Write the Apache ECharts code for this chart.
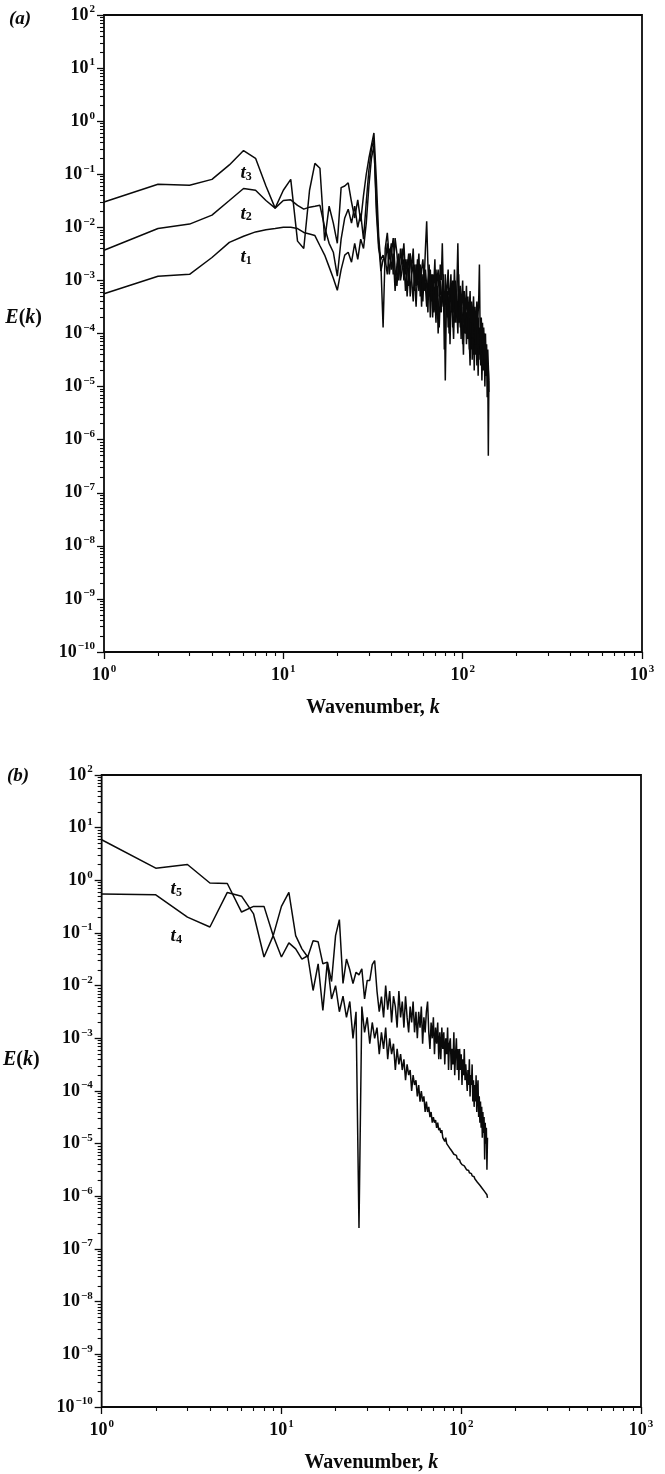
<!DOCTYPE html>
<html>
<head>
<meta charset="utf-8">
<script src="https://cdn.jsdelivr.net/npm/echarts@6/dist/echarts.min.js"></script>
<style>
  html, body { margin: 0; padding: 0; background: #fff; }
  #chart { width: 665px; height: 1474px; }
</style>
</head>
<body>
<div id="chart"></div>
<script>
// Shell wavenumbers k = 1 … 140
const wavenumbers = [
  1,2,3,4,5,6,7,8,9,10,11,12,13,14,15,16,17,18,19,20,
  21,22,23,24,25,26,27,28,29,30,31,32,33,34,35,36,37,38,39,40,
  41,42,43,44,45,46,47,48,49,50,51,52,53,54,55,56,57,58,59,60,
  61,62,63,64,65,66,67,68,69,70,71,72,73,74,75,76,77,78,79,80,
  81,82,83,84,85,86,87,88,89,90,91,92,93,94,95,96,97,98,99,100,
  101,102,103,104,105,106,107,108,109,110,111,112,113,114,115,116,117,118,119,120,
  121,122,123,124,125,126,127,128,129,130,131,132,133,134,135,136,137,138,139,140
];

// Panel (a): energy spectra E(k) at times t1, t2, t3
const spectrumT1 = [
  5.6e-4,1.2e-3,1.3e-3,2.7e-3,5.2e-3,6.8e-3,8.2e-3,9.0e-3,9.5e-3,1.0e-2,
  1.0e-2,9.5e-3,8.0e-3,7.5e-3,7.0e-3,4.5e-3,3.0e-3,1.8e-3,1.1e-3,6.5e-4,
  1.6e-3,3.0e-3,3.4e-3,2.2e-3,5.0e-3,2.5e-3,6.0e-3,4.0e-3,1.2e-2,6.0e-2,
  2.0e-1,3.5e-1,3.0e-2,5.0e-3,1.5e-3,2.5e-3,2.5e-3,1.3e-3,4.0e-3,1.6e-3,
  3.2e-3,6.3e-4,2.0e-3,3.2e-3,1.0e-3,1.6e-3,2.5e-3,6.3e-4,1.6e-3,3.2e-3,
  5.0e-4,1.3e-3,2.0e-3,1.0e-3,3.2e-4,1.6e-3,6.3e-4,1.3e-3,1.0e-3,4.0e-4,
  1.6e-3,7.9e-4,3.2e-4,1.0e-3,1.6e-3,2.0e-4,6.3e-4,1.0e-3,2.5e-4,5.0e-4,
  1.6e-4,7.9e-4,4.0e-4,1.3e-4,5.0e-4,2.5e-4,1.0e-3,3.2e-4,5.0e-4,1.3e-5,
  2.5e-4,6.3e-4,1.3e-4,4.0e-4,6.3e-5,3.2e-4,5.0e-4,2.0e-4,7.9e-5,3.2e-4,
  1.6e-4,6.3e-4,2.5e-4,1.0e-4,4.0e-4,1.6e-4,3.2e-4,7.9e-5,2.5e-4,1.3e-4,
  4.0e-5,2.0e-4,1.0e-4,2.5e-4,6.3e-5,1.6e-4,7.9e-5,2.0e-4,6.3e-5,2.5e-5,
  1.3e-4,5.0e-5,1.6e-4,4.0e-5,1.0e-4,2.0e-5,7.9e-5,5.0e-5,1.3e-4,3.2e-5,
  6.3e-5,1.6e-5,1.0e-4,4.0e-5,7.9e-5,2.5e-5,6.3e-5,1.3e-5,4.0e-5,7.9e-5,
  2.0e-5,5.0e-5,1.0e-5,3.2e-5,1.6e-5,4.0e-5,6.3e-6,2.5e-5,5.0e-7,1.3e-5
];
const spectrumT2 = [
  3.7e-3,9.5e-3,1.15e-2,1.7e-2,3.2e-2,5.4e-2,5.0e-2,3.2e-2,2.3e-2,3.2e-2,
  3.3e-2,2.6e-2,2.2e-2,2.4e-2,2.5e-2,2.6e-2,1.0e-2,5.0e-3,3.4e-3,1.2e-3,
  6.0e-3,1.5e-2,2.2e-2,1.2e-2,2.5e-2,1.0e-2,1.8e-2,6.0e-3,3.0e-2,1.2e-1,
  3.0e-1,4.5e-1,2.0e-2,4.0e-3,2.5e-3,3.0e-3,2.0e-3,5.0e-3,1.3e-3,3.2e-3,
  6.3e-3,1.6e-3,7.9e-4,2.5e-3,1.3e-3,4.0e-3,1.0e-3,2.5e-3,5.0e-4,1.6e-3,
  3.2e-3,1.0e-3,4.0e-4,2.0e-3,7.9e-4,2.5e-3,1.0e-3,2.0e-3,3.2e-4,1.3e-3,
  6.3e-4,1.6e-3,7.9e-4,2.5e-4,2.0e-3,5.0e-4,1.3e-3,2.0e-4,7.9e-4,4.0e-4,
  1.6e-3,6.3e-4,1.0e-4,5.0e-4,1.0e-3,3.2e-4,6.3e-4,1.3e-3,5.0e-5,4.0e-4,
  7.9e-4,2.0e-4,5.0e-4,1.0e-4,3.2e-4,7.9e-4,4.0e-4,1.3e-4,6.3e-4,2.5e-4,
  1.0e-3,5.0e-4,1.6e-4,4.0e-4,1.3e-3,2.5e-4,1.3e-4,5.0e-4,2.0e-4,6.3e-5,
  3.2e-4,1.6e-4,4.0e-4,1.0e-4,2.5e-4,1.3e-4,3.2e-4,1.6e-4,5.0e-5,2.5e-4,
  1.0e-4,2.0e-4,3.2e-5,1.3e-4,2.5e-4,7.9e-5,1.6e-4,4.0e-5,1.3e-4,2.5e-5,
  1.0e-4,2.0e-4,6.3e-5,1.3e-4,3.2e-5,7.9e-5,5.0e-5,1.3e-4,2.0e-5,6.3e-5,
  3.2e-5,1.0e-4,4.0e-5,1.6e-5,5.0e-5,2.5e-5,4.0e-5,1.0e-5,2.0e-5,7.9e-6
];
const spectrumT3 = [
  3.0e-2,6.5e-2,6.2e-2,8.0e-2,1.5e-1,2.8e-1,2.0e-1,6.0e-2,2.3e-2,5.0e-2,
  8.0e-2,5.5e-3,4.0e-3,5.0e-2,1.6e-1,1.3e-1,5.6e-3,2.5e-2,1.2e-2,5.0e-3,
  5.6e-2,6.0e-2,6.9e-2,3.0e-2,1.5e-2,3.3e-2,1.3e-2,4.0e-2,1.0e-1,2.0e-1,
  3.5e-1,6.0e-1,8.0e-2,7.0e-3,2.0e-3,1.3e-4,4.0e-3,7.9e-3,2.5e-3,5.0e-3,
  1.3e-3,6.3e-3,3.2e-3,1.0e-3,4.0e-3,2.0e-3,5.0e-3,1.3e-3,2.5e-3,7.9e-4,
  3.2e-3,1.6e-3,4.0e-3,6.3e-4,2.0e-3,1.3e-3,3.2e-3,5.0e-4,1.6e-3,2.5e-3,
  1.0e-3,4.0e-3,1.3e-2,2.0e-3,6.3e-4,1.6e-3,4.0e-4,1.3e-3,7.9e-4,2.5e-3,
  3.2e-4,1.0e-3,1.6e-3,5.0e-4,2.0e-3,1.0e-3,5.0e-3,6.3e-4,2.5e-4,1.3e-3,
  4.0e-4,7.9e-4,1.6e-3,3.2e-4,6.3e-4,1.3e-3,2.5e-4,1.0e-3,5.0e-4,1.6e-3,
  4.0e-4,2.0e-4,1.0e-3,5.0e-3,6.3e-4,3.2e-4,7.9e-4,1.6e-4,5.0e-4,1.0e-3,
  2.5e-4,6.3e-4,1.3e-4,4.0e-4,7.9e-4,2.0e-4,5.0e-4,1.0e-4,3.2e-4,6.3e-4,
  1.6e-4,4.0e-4,7.9e-5,2.5e-4,5.0e-4,1.3e-4,3.2e-4,6.3e-5,2.0e-4,4.0e-4,
  1.0e-4,2.5e-4,5.0e-4,2.0e-3,1.3e-4,5.0e-5,2.0e-4,7.9e-5,1.6e-4,4.0e-5,
  1.3e-4,6.3e-5,2.5e-5,1.0e-4,3.2e-5,6.3e-5,1.6e-5,5.0e-5,2.5e-5,1.3e-5
];

// Panel (b): energy spectra E(k) at times t4, t5
const spectrumT4 = [
  5.5e-1,5.3e-1,2.0e-1,1.3e-1,5.9e-1,5.0e-1,2.3e-1,3.5e-2,8.9e-2,3.5e-2,
  6.5e-2,5.0e-2,3.2e-2,3.7e-2,8.1e-3,2.6e-2,3.4e-3,2.8e-2,5.6e-3,1.0e-2,
  3.2e-3,6.3e-3,2.5e-3,5.0e-3,1.0e-3,3.2e-3,2.5e-7,4.0e-3,1.3e-3,2.5e-3,
  7.9e-4,2.0e-3,1.0e-3,1.6e-3,5.0e-4,1.3e-3,6.3e-4,1.6e-3,4.0e-4,1.0e-3,
  5.0e-4,7.9e-4,2.5e-4,6.3e-4,3.2e-4,5.0e-4,2.5e-4,4.0e-4,1.6e-4,3.2e-4,
  2.0e-4,2.5e-4,1.0e-4,2.0e-4,1.3e-4,1.6e-4,7.9e-5,1.3e-4,6.3e-5,1.0e-4,
  6.3e-5,7.9e-5,4.0e-5,6.3e-5,4.0e-5,5.0e-5,3.2e-5,4.0e-5,2.5e-5,3.2e-5,
  2.5e-5,2.8e-5,2.0e-5,2.5e-5,1.8e-5,2.0e-5,1.6e-5,1.8e-5,1.3e-5,1.4e-5,
  1.1e-5,1.3e-5,1.0e-5,1.07e-5,8.9e-6,9.5e-6,7.9e-6,8.3e-6,7.1e-6,7.4e-6,
  6.3e-6,6.6e-6,5.8e-6,6.0e-6,5.2e-6,5.4e-6,4.8e-6,4.9e-6,4.4e-6,4.5e-6,
  4.0e-6,4.1e-6,3.7e-6,3.8e-6,3.5e-6,3.55e-6,3.2e-6,3.3e-6,3.0e-6,3.1e-6,
  2.8e-6,2.9e-6,2.6e-6,2.7e-6,2.45e-6,2.5e-6,2.3e-6,2.35e-6,2.15e-6,2.2e-6,
  2.0e-6,2.05e-6,1.85e-6,1.9e-6,1.74e-6,1.78e-6,1.62e-6,1.66e-6,1.51e-6,1.55e-6,
  1.41e-6,1.45e-6,1.32e-6,1.35e-6,1.23e-6,1.26e-6,1.15e-6,1.17e-6,1.07e-6,9.3e-7
];
const spectrumT5 = [
  5.9,1.7,2.0,8.9e-1,8.7e-1,2.5e-1,3.2e-1,3.2e-1,8.9e-2,3.2e-1,
  5.9e-1,8.9e-2,5.0e-2,3.5e-2,7.1e-2,6.8e-2,2.6e-2,2.8e-2,1.2e-2,8.9e-2,
  1.8e-1,1.1e-2,3.2e-2,2.0e-2,1.1e-2,1.8e-2,1.6e-2,2.1e-2,5.6e-3,1.26e-2,
  1.26e-2,2.5e-2,3.0e-2,7.9e-3,3.2e-3,6.2e-3,2.5e-3,1.0e-2,3.5e-3,7.9e-3,
  2.0e-3,6.3e-3,4.0e-3,1.6e-3,7.9e-3,2.5e-3,5.0e-3,1.6e-3,6.3e-3,2.5e-3,
  1.3e-3,4.0e-3,2.0e-3,5.0e-3,1.3e-3,3.2e-3,1.0e-3,3.2e-3,1.6e-3,4.0e-3,
  7.9e-4,2.5e-3,1.3e-3,3.2e-3,5.0e-3,1.3e-3,6.3e-4,2.0e-3,1.0e-3,2.5e-3,
  5.0e-4,1.6e-3,7.9e-4,2.0e-3,4.0e-4,1.3e-3,4.0e-4,1.6e-3,6.3e-4,1.3e-3,
  3.2e-4,1.0e-3,5.0e-4,1.6e-3,2.5e-4,7.9e-4,1.0e-3,2.5e-4,6.3e-4,3.2e-4,
  1.3e-3,2.0e-4,5.0e-4,1.0e-3,2.5e-4,6.3e-4,1.6e-4,6.3e-4,2.5e-4,5.0e-4,
  1.3e-4,4.0e-4,2.0e-4,6.3e-4,1.6e-4,3.2e-4,3.2e-4,1.0e-4,2.5e-4,1.3e-4,
  4.0e-4,7.9e-5,2.0e-4,1.3e-4,3.2e-4,6.3e-5,1.6e-4,5.0e-5,1.3e-4,6.3e-5,
  2.0e-4,4.0e-5,1.0e-4,1.6e-4,3.2e-5,7.9e-5,2.5e-5,6.3e-5,2.0e-5,5.0e-5,
  1.3e-5,4.0e-5,1.6e-5,3.2e-5,5.0e-6,2.5e-5,1.0e-5,2.0e-5,3.2e-6,1.3e-5
];

// Axis ranges and decade tick values
const kRange = [1, 1000];
const energyRange = [1e-10, 1e2];
const decadeTicksK = [1, 10, 100, 1000];
const decadeTicksE = [1e-10, 1e-9, 1e-8, 1e-7, 1e-6, 1e-5, 1e-4, 1e-3, 1e-2, 1e-1, 1, 10, 100];

// Intermediate log ticks 2·10^n … 9·10^n inside each decade
function logMinorTicks(decades) {
  const out = [];
  for (let i = 0; i < decades.length - 1; i++) {
    for (let m = 2; m <= 9; m++) out.push(decades[i] * m);
  }
  return out;
}
const minorTicksK = logMinorTicks(decadeTicksK);
const minorTicksE = logMinorTicks(decadeTicksE);

const INK = '#0a0a0a';
const SERIF = 'Liberation Serif';

function powerOfTen(v) {
  const e = Math.round(Math.log10(v));
  return '{b|10}{s|' + String(e).replace('-', '\u2212') + '}';
}
const powerRich = {
  b: { fontFamily: SERIF, fontSize: 18, fontWeight: 'bold', color: INK, lineHeight: 22 },
  s: { fontFamily: SERIF, fontSize: 11, fontWeight: 'bold', color: INK, verticalAlign: 'top', padding: [0, 0, 4, 1] }
};
const nameRich = {
  n: { fontFamily: SERIF, fontSize: 20, fontWeight: 'bold', color: INK },
  i: { fontFamily: SERIF, fontSize: 20, fontWeight: 'bold', color: INK, fontStyle: 'italic' }
};

// plot boxes; eLift raises the E(k) caption above the axis middle
const panels = [
  { left: 104, top: 15, width: 538, height: 637, eLift: 32 },
  { left: 99, top: 775, width: 542, height: 636, eLift: 62 }
];

const grid = panels.map(p => ({
  left: p.left, top: p.top, width: p.width, height: p.height,
  show: true, borderColor: INK, borderWidth: 1.8, backgroundColor: 'transparent'
}));

const xAxis = [];
const yAxis = [];
panels.forEach((p, gi) => {
  // decade ticks with labels
  xAxis.push({
    type: 'log', logBase: 10, gridIndex: gi, min: kRange[0], max: kRange[1], position: 'bottom',
    axisLine: { show: false },
    splitLine: { show: false },
    axisTick: { show: true, inside: false, length: 7, customValues: decadeTicksK, lineStyle: { color: INK, width: 1.3 } },
    axisLabel: { show: true, margin: 12, customValues: decadeTicksK, formatter: powerOfTen, rich: powerRich },
    name: '{n|Wavenumber, }{i|k}', nameLocation: 'middle', nameGap: 46,
    nameTextStyle: { rich: nameRich }
  });
  // intermediate ticks
  xAxis.push({
    type: 'log', logBase: 10, gridIndex: gi, min: kRange[0], max: kRange[1], position: 'bottom',
    axisLine: { show: false }, splitLine: { show: false }, axisLabel: { show: false },
    axisTick: { show: true, inside: false, length: 4, customValues: minorTicksK, lineStyle: { color: INK, width: 1.1 } }
  });
  yAxis.push({
    type: 'log', logBase: 10, gridIndex: gi, min: energyRange[0], max: energyRange[1], position: 'left',
    axisLine: { show: false },
    splitLine: { show: false },
    axisTick: { show: true, inside: false, length: 7, customValues: decadeTicksE, lineStyle: { color: INK, width: 1.3 } },
    axisLabel: { show: true, margin: 9, customValues: decadeTicksE, formatter: powerOfTen, rich: powerRich },
    name: '{i|E}{n|(}{i|k}{n|)}', nameLocation: 'middle', nameRotate: 0, nameGap: 62,
    nameTextStyle: { align: 'right', padding: [0, 0, p.eLift, 0], rich: nameRich }
  });
  yAxis.push({
    type: 'log', logBase: 10, gridIndex: gi, min: energyRange[0], max: energyRange[1], position: 'left',
    axisLine: { show: false }, splitLine: { show: false }, axisLabel: { show: false },
    axisTick: { show: true, inside: false, length: 4, customValues: minorTicksE, lineStyle: { color: INK, width: 1.1 } }
  });
});

const tagRich = {
  t: { fontFamily: SERIF, fontSize: 19, fontWeight: 'bold', fontStyle: 'italic', color: INK },
  d: { fontFamily: SERIF, fontSize: 12, fontWeight: 'bold', color: INK, verticalAlign: 'bottom', padding: [6, 0, 0, 0] }
};

function spectrumSeries(name, values, gi, tagAt, tagIndex) {
  return {
    name: name, type: 'line', xAxisIndex: gi * 2, yAxisIndex: gi * 2,
    data: wavenumbers.map((k, i) => [k, values[i]]),
    showSymbol: false, symbol: 'none', silent: true,
    lineStyle: { color: INK, width: 1.5 },
    markPoint: {
      symbol: 'circle', symbolSize: 1, itemStyle: { color: 'transparent' }, silent: true,
      label: { show: true, position: 'inside', formatter: '{t|t}{d|' + tagIndex + '}', rich: tagRich },
      data: [{ coord: tagAt }]
    }
  };
}

const series = [
  spectrumSeries('t1', spectrumT1, 0, [6.2, 2.7e-3], 1),
  spectrumSeries('t2', spectrumT2, 0, [6.2, 1.8e-2], 2),
  spectrumSeries('t3', spectrumT3, 0, [6.2, 1.05e-1], 3),
  spectrumSeries('t4', spectrumT4, 1, [2.6, 8.7e-2], 4),
  spectrumSeries('t5', spectrumT5, 1, [2.6, 6.8e-1], 5)
];

const panelTag = (txt, x, y) => ({
  type: 'text', left: x, top: y,
  style: { text: '(' + txt + ')', font: 'italic bold 19px "Liberation Serif"', fill: INK }
});

const chart = echarts.init(document.getElementById('chart'), null, { renderer: 'canvas' });
chart.setOption({
  animation: false,
  backgroundColor: '#fff',
  grid: grid,
  xAxis: xAxis,
  yAxis: yAxis,
  series: series,
  graphic: [panelTag('a', 9, 10), panelTag('b', 7, 767)]
});
</script>
</body>
</html>
